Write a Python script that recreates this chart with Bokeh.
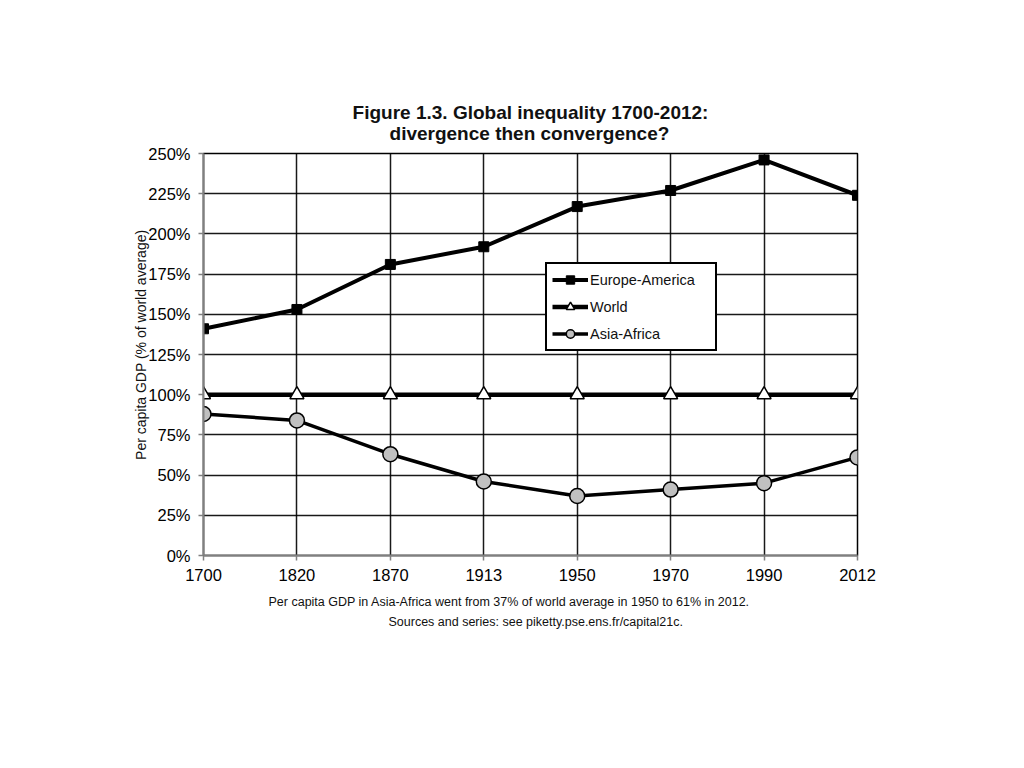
from bokeh.plotting import figure
from bokeh.models import FixedTicker, PrintfTickFormatter, Title, Legend, LegendItem, Range1d
from bokeh.embed import file_html
from bokeh.resources import INLINE

years = ["1700", "1820", "1870", "1913", "1950", "1970", "1990", "2012"]
europe_america = [141, 153, 181, 192, 217, 227, 246, 224]
world = [100, 100, 100, 100, 100, 100, 100, 100]
asia_africa = [88, 84, 63, 46, 37, 41, 45, 61]
y_ticks = [0, 25, 50, 75, 100, 125, 150, 175, 200, 225, 250]

xs = list(range(len(years)))
FONT = "'Liberation Sans', Arial, sans-serif"
TXT = "#111111"

p = figure(width=1000, height=720, output_backend="svg", toolbar_location=None,
           x_range=Range1d(0, len(years) - 1), y_range=Range1d(0, 250),
           min_border_left=203, min_border_right=143, min_border_top=153,
           min_border_bottom=165, title=None)

p.outline_line_color = "#000000"
p.outline_line_width = 1.5

# grid
p.xgrid.ticker = FixedTicker(ticks=xs)
p.ygrid.ticker = FixedTicker(ticks=y_ticks)
for g in (p.xgrid, p.ygrid):
    g.grid_line_color = "#000000"
    g.grid_line_width = 1.5
    g.grid_line_alpha = 0.9

# axes
p.xaxis.ticker = FixedTicker(ticks=xs)
p.xaxis.major_label_overrides = {i: y for i, y in enumerate(years)}
p.yaxis.ticker = FixedTicker(ticks=y_ticks)
p.yaxis.formatter = PrintfTickFormatter(format="%d%%")
for ax in (p.xaxis, p.yaxis):
    ax.axis_line_color = "#808080"
    ax.axis_line_width = 2
    ax.major_tick_line_color = "#808080"
    ax.major_tick_line_width = 1.5
    ax.major_tick_in = 0
    ax.major_tick_out = 5
    ax.minor_tick_line_color = None
    ax.major_label_text_font = FONT
    ax.major_label_text_font_size = "16.5px"
    ax.major_label_text_font_style = "normal"
    ax.major_label_text_color = "#000000"
p.xaxis.major_label_standoff = 8
p.yaxis.major_label_standoff = 8
p.yaxis.axis_label = "\u00a0" * 5 + "Per capita GDP (% of world average)"
p.yaxis.axis_label_text_font = FONT
p.yaxis.axis_label_text_font_size = "14px"
p.yaxis.axis_label_text_font_style = "normal"
p.yaxis.axis_label_text_color = TXT
p.yaxis.axis_label_standoff = -4

# series
r1l = p.line(xs, europe_america, line_color="black", line_width=4)
r1m = p.scatter(xs, europe_america, marker="square", size=10, fill_color="black", line_color="black")
r2l = p.line(xs, world, line_color="black", line_width=4.5)
r2m = p.scatter(xs, world, marker="triangle", size=14, fill_color="white", line_color="black", line_width=1.5)
r3l = p.line(xs, asia_africa, line_color="black", line_width=3.5)
r3m = p.scatter(xs, asia_africa, marker="circle", size=15, fill_color="#c0c0c0", line_color="black", line_width=1.5)

legend = Legend(items=[
    LegendItem(label="Europe-America", renderers=[r1l, r1m]),
    LegendItem(label="World", renderers=[r2l, r2m]),
    LegendItem(label="Asia-Africa", renderers=[r3l, r3m]),
], location=(342, 204))
legend.border_line_color = "black"
legend.border_line_width = 2
legend.border_line_alpha = 1
legend.background_fill_color = "white"
legend.background_fill_alpha = 1
legend.label_text_font = FONT
legend.label_text_font_size = "14.5px"
legend.label_text_color = TXT
legend.glyph_width = 36
legend.glyph_height = 21
legend.label_standoff = 2
legend.label_width = 120
legend.spacing = 6
legend.padding = 5
legend.margin = 0
legend.label_height = 21
p.add_layout(legend, "center")

# title: two lines (second line indented to sit centred under the first)
title_lines = ["Figure 1.3. Global inequality 1700-2012:", "divergence then convergence?"]
t = Title(text=title_lines[0] + "\n" + "\u00a0" * 7 + title_lines[1], align="center",
          text_font=FONT, text_font_size="19px", text_font_style="bold", text_color=TXT,
          standoff=19, text_line_height=1.0)
p.add_layout(t, "above")

f1 = Title(text="Per capita GDP in Asia-Africa went from 37% of world average in 1950 to 61% in 2012.",
           align="left", offset=65, text_font=FONT, text_font_size="12.5px", text_font_style="normal",
           text_color=TXT, standoff=18)
f2 = Title(text="Sources and series: see piketty.pse.ens.fr/capital21c.",
           align="left", offset=185, text_font=FONT, text_font_size="12.5px", text_font_style="normal",
           text_color=TXT, standoff=-9)
p.add_layout(f1, "below")
p.add_layout(f2, "below")

open("out.html", "w").write(file_html(p, INLINE))
